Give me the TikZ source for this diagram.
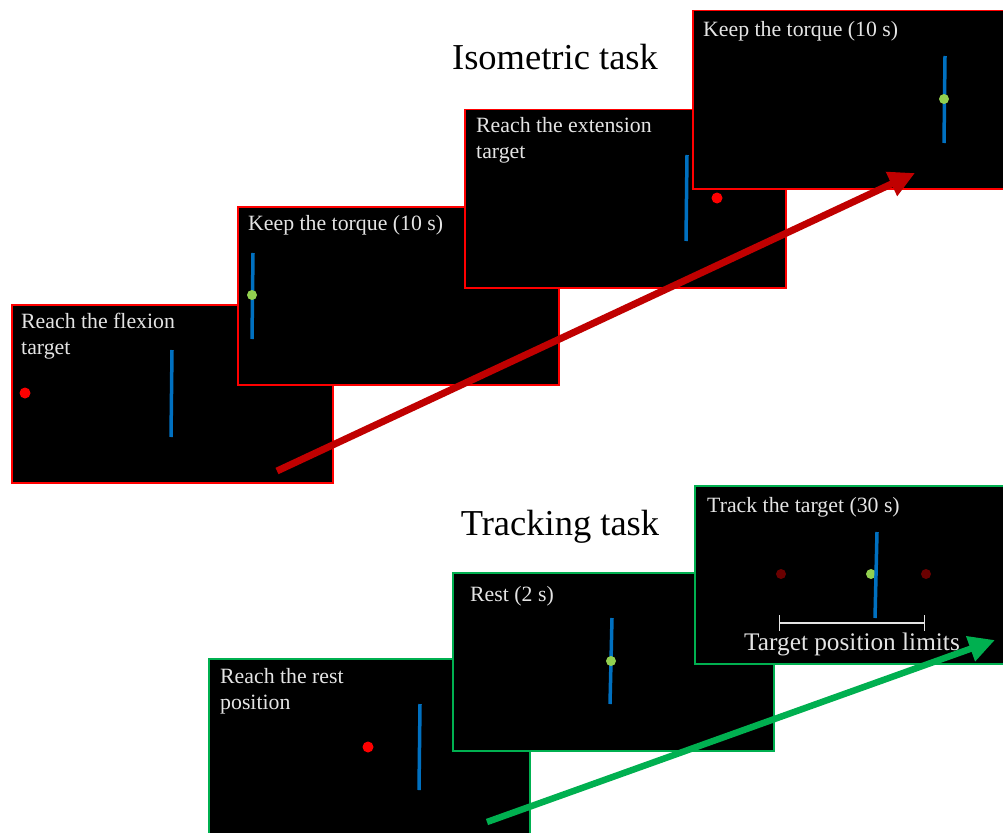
\documentclass[tikz,border=0pt]{standalone}
\usepackage{fontspec}
\setmainfont{Liberation Serif}
\usetikzlibrary{arrows.meta,positioning,calc}
\definecolor{TaskRed}{HTML}{FF0000}
\definecolor{ArrowRed}{HTML}{C00000}
\definecolor{TaskGreen}{HTML}{00B050}
\definecolor{CursorBlue}{HTML}{0070C0}
\definecolor{DotGreen}{HTML}{92D050}
\definecolor{DotDark}{HTML}{6A0000}
\definecolor{ScreenText}{HTML}{E4E4E4}

\begin{document}
\begin{tikzpicture}[
    x=1pt,y=-1pt,
    screen/.style={draw,fill=black,line width=1.5pt,minimum width=321pt,minimum height=178pt,anchor=north west,inner sep=0pt},
    isoscreen/.style={screen,draw=TaskRed},
    trackscreen/.style={screen,draw=TaskGreen},
    caption/.style={anchor=north west,inner sep=0pt,align=left,text=ScreenText,font=\fontsize{21.8}{26}\selectfont},
    cursor/.style={CursorBlue,line width=3.5pt},
    target/.style={circle,fill=red,inner sep=0pt,minimum size=11pt},
    handle/.style={circle,fill=DotGreen,inner sep=0pt,minimum size=10pt},
    limit/.style={circle,fill=DotDark,inner sep=0pt,minimum size=10pt},
    title/.style={anchor=base,font=\fontsize{36.5}{40}\selectfont},
    bigarr/.style={-{Triangle[length=26pt,width=25pt]},line width=7pt},
    limitbar/.style={{Bar[width=16pt]}-{Bar[width=16pt]},ScreenText,line width=1.2pt}
  ]
    \path[use as bounding box,clip] (0,0) rectangle (1003,832);

    % ISOMETRIC TASK
    \node[isoscreen] (iso1) at (11,304) {};
    \node[caption] at ([shift={(10,9)}]iso1.north west) {Reach the flexion\\target};
    \draw[cursor] (172,350) -- (171,437);
    \node[target] (flexT) at (25,393) {};

    \node[isoscreen] (iso2) at (237,206) {};
    \node[caption] at ([shift={(11,9)}]iso2.north west) {Keep the torque (10 s)};
    \draw[cursor] (253,253) -- (252,339);
    \node[handle] (hold1) at (252,295) {};

    \node[isoscreen] (iso3) at (464,109) {};
    \node[caption] at ([shift={(12,8)}]iso3.north west) {Reach the extension\\target};
    \draw[cursor] (687,155) -- (686,241);
    \node[target] (extT) at (717,198) {};

    \node[isoscreen] (iso4) at (692,10) {};
    \node[caption] at ([shift={(11,11)}]iso4.north west) {Keep the torque (10 s)};
    \draw[cursor] (945,56) -- (944,143);
    \node[handle] (hold2) at (944,99) {};

    \node[title] (isoTitle) at (555,70) {Isometric task};

    \coordinate (isoStart) at (277,471);
    \coordinate (isoEnd) at (915,173);
    \draw[bigarr,ArrowRed] (isoStart) -- (isoEnd);

    % TRACKING TASK
    \node[trackscreen] (trk1) at (208,658) {};
    \node[caption] at ([shift={(12,10)}]trk1.north west) {Reach the rest\\position};
    \draw[cursor] (420,704) -- (419,790);
    \node[target] (restT) at (368,747) {};

    \node[trackscreen] (trk2) at (452,572) {};
    \node[caption] at ([shift={(18,14)}]trk2.north west) {Rest (2 s)};
    \draw[cursor] (612,618) -- (610,704);
    \node[handle] (hold3) at (611,661) {};

    \node[trackscreen] (trk3) at (694,485) {};
    \node[caption] at ([shift={(13,12)}]trk3.north west) {Track the target (30 s)};
    \node[limit] (limA) at (781,574) {};
    \node[limit] (limB) at (926,574) {};
    \node[handle] (hold4) at (871,574) {};
    \draw[cursor] (877,532) -- (875,618);
    \coordinate (barL) at (779,623);
    \coordinate (barR) at (925,623);
    \draw[limitbar] (barL) -- (barR);
    \node[anchor=base,text=ScreenText,font=\fontsize{25.3}{28}\selectfont] (limText) at (852,650) {Target position limits};

    \node[title] (trkTitle) at (560,535) {Tracking task};

    \coordinate (trkStart) at (487,822);
    \coordinate (trkEnd) at (995,640);
    \draw[bigarr,TaskGreen,line width=6.5pt] (trkStart) -- (trkEnd);
  \end{tikzpicture}
\end{document}
